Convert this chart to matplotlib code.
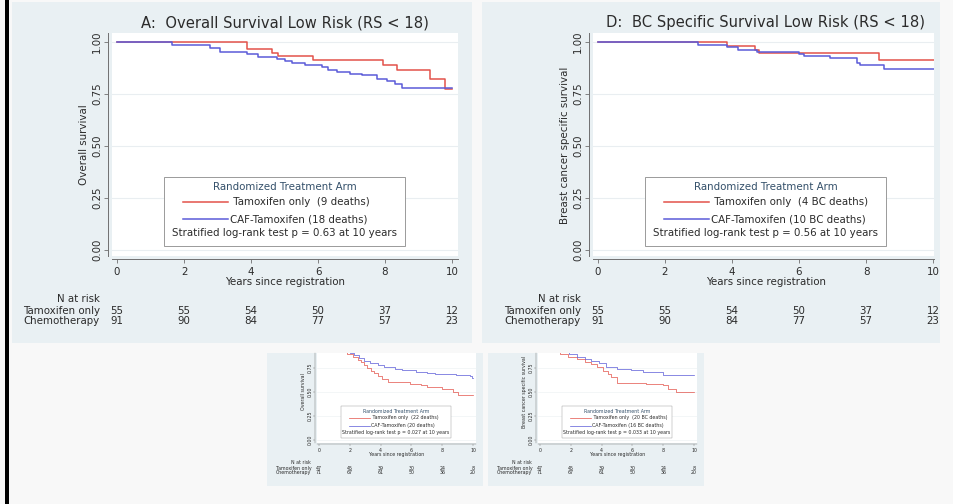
import matplotlib
matplotlib.use("Agg")
import matplotlib.pyplot as plt
from matplotlib.patches import Rectangle
from matplotlib.lines import Line2D
from matplotlib.transforms import blended_transform_factory

plt.rcParams['font.family'] = ['DejaVu Sans']

W, H = 954, 504
RED = '#e3524a'
BLUE = '#5b5bd8'
TXT = '#2b2b2b'
AXC = '#707070'

years = [0, 2, 4, 6, 8, 10]
yticks = [0, 0.25, 0.5, 0.75, 1.0]

# A: overall survival, low risk (step times / survival after step)
a_tam_t = [0, 3.87, 4.62, 4.82, 5.86, 7.95, 8.35, 9.34, 9.79, 10.0]
a_tam_s = [1.0, 0.968, 0.945, 0.932, 0.913, 0.889, 0.866, 0.820, 0.772, 0.772]
a_caf_t = [0, 1.63, 2.78, 3.07, 3.87, 4.22, 4.77, 5.01, 5.21, 5.61, 6.11, 6.31,
           6.56, 6.96, 7.30, 7.75, 8.05, 8.30, 8.50, 10.0]
a_caf_s = [1.0, 0.987, 0.971, 0.953, 0.940, 0.929, 0.920, 0.910, 0.897, 0.890, 0.880,
           0.866, 0.858, 0.847, 0.840, 0.820, 0.812, 0.800, 0.780, 0.780]

# D: breast cancer specific survival, low risk
d_tam_t = [0, 3.84, 4.69, 4.80, 8.40, 10.05]
d_tam_s = [1.0, 0.981, 0.963, 0.947, 0.915, 0.915]
d_caf_t = [0, 3.00, 3.84, 4.19, 4.74, 6.00, 6.14, 6.94, 7.73, 7.83, 8.53, 10.05]
d_caf_s = [1.0, 0.987, 0.976, 0.963, 0.950, 0.942, 0.933, 0.921, 0.900, 0.888, 0.868, 0.868]

# lower thumbnails (cropped at the top)
b_tam_t = [0, 0.7, 1.1, 1.4, 1.8, 2.2, 2.5, 2.7, 2.9, 3.1, 3.4, 3.6, 3.8, 4.1, 4.5,
           5.9, 6.6, 7.0, 8.0, 8.7, 9.0, 10.0]
b_tam_s = [1.0, 0.98, 0.96, 0.93, 0.90, 0.87, 0.84, 0.81, 0.78, 0.75, 0.72, 0.70, 0.67,
           0.64, 0.61, 0.59, 0.57, 0.55, 0.53, 0.50, 0.47, 0.47]
b_caf_t = [0, 0.9, 1.4, 2.0, 2.3, 2.6, 2.9, 3.3, 3.8, 4.2, 4.9, 5.4, 6.3, 7.0, 7.5,
           8.9, 9.8, 9.95, 10.0]
b_caf_s = [1.0, 0.98, 0.95, 0.91, 0.89, 0.86, 0.83, 0.80, 0.78, 0.76, 0.74, 0.73, 0.71,
           0.70, 0.69, 0.68, 0.667, 0.645, 0.645]
e_tam_t = [0, 0.5, 0.9, 1.3, 1.8, 2.4, 2.9, 3.3, 3.7, 4.1, 4.4, 4.6, 5.0, 6.9, 8.0,
           8.3, 8.8, 10.0]
e_tam_s = [1.0, 0.98, 0.94, 0.90, 0.87, 0.85, 0.82, 0.79, 0.76, 0.72, 0.69, 0.66, 0.60,
           0.585, 0.57, 0.535, 0.50, 0.50]
e_caf_t = [0, 0.9, 1.5, 1.9, 2.4, 2.9, 3.3, 3.8, 4.3, 5.0, 5.9, 6.7, 8.0, 10.0]
e_caf_s = [1.0, 0.97, 0.93, 0.90, 0.87, 0.85, 0.83, 0.80, 0.76, 0.745, 0.73, 0.71,
           0.68, 0.68]

low_tam_risk = [55, 55, 54, 50, 37, 12]
low_chemo_risk = [91, 90, 84, 77, 57, 23]
high_tam_risk = [47, 45, 39, 30, 24, 8]
high_chemo_risk = [71, 67, 61, 50, 36, 20]

fig = plt.figure(figsize=(W / 100, H / 100), dpi=100)
fig.patch.set_facecolor('#f8f8f8')


def rect(x1, y1, x2, y2, **kw):
    fig.add_artist(Rectangle((x1 / W, 1 - y2 / H), (x2 - x1) / W, (y2 - y1) / H,
                             transform=fig.transFigure, **kw))


def label(x, y, s, **kw):
    fig.text(x / W, 1 - y / H, s, **kw)


def panel(x0, y0, s, clip_top, right_ext, tam_t, tam_s, caf_t, caf_s, title, ylab,
          tam_lab, caf_lab, note, tam_risk, chemo_risk):
    # x0, y0: pixel position of (0 years, 0 survival); s: scale of the panel
    fs = 7.4 * s
    left, right = x0 - 5 * s, x0 + right_ext * s
    top, bottom = max(y0 - 217 * s, clip_top), y0 + 6 * s
    ax = fig.add_axes([left / W, 1 - bottom / H, (right - left) / W, (bottom - top) / H])
    ax.set_facecolor('white')
    ax.set_xlim((left - x0) / (33.5 * s), (right - x0) / (33.5 * s))
    ax.set_ylim((y0 - bottom) / (208 * s), (y0 - top) / (208 * s))
    ax.step(tam_t, tam_s, where='post', color=RED, lw=1.1 * s, zorder=3)
    ax.step(caf_t, caf_s, where='post', color=BLUE, lw=1.1 * s, zorder=3)
    for side in ['top', 'right']:
        ax.spines[side].set_visible(False)
    ax.spines['left'].set_position(('outward', 4 * s * 0.72))
    ax.spines['bottom'].set_position(('outward', 3 * s * 0.72))
    for side in ['left', 'bottom']:
        ax.spines[side].set_color(AXC)
        ax.spines[side].set_linewidth(0.7 * s)
    vis = [v for v in yticks if v <= ax.get_ylim()[1]]
    ax.set_xticks(years)
    ax.set_yticks(vis)
    ax.tick_params(length=3 * s, width=0.6 * s, color=AXC,
                   labelleft=False, labelbottom=False)
    ax.grid(axis='y', color='#e9eef1', lw=0.8 * s)
    ax.set_axisbelow(True)

    tx = blended_transform_factory(ax.transData, fig.transFigure)
    ty = blended_transform_factory(fig.transFigure, ax.transData)
    for v in vis:
        ax.text((x0 - 20 * s) / W, v, f'{v:.2f}', transform=ty, rotation=90,
                ha='center', va='center', fontsize=fs, color=TXT)
    for yr in years:
        ax.text(yr, 1 - (y0 + 22 * s) / H, str(yr), transform=tx,
                ha='center', va='center', fontsize=fs, color=TXT)
    label(x0 + 168 * s, y0 + 32 * s, 'Years since registration',
          ha='center', va='center', fontsize=fs, color=TXT)
    label(x0 - 33 * s, y0 - 105 * s, ylab, rotation=90,
          ha='center', va='center', fontsize=fs, color=TXT)
    if title:
        label(x0 + 168 * s, 23, title, ha='center', va='center',
              fontsize=10.6 * s, color=TXT)

    # risk table
    label(x0 - 17 * s, y0 + 49 * s, 'N at risk', ha='right', va='center', fontsize=fs, color=TXT)
    label(x0 - 17 * s, y0 + 61.5 * s, 'Tamoxifen only', ha='right', va='center', fontsize=fs, color=TXT)
    label(x0 - 17 * s, y0 + 71 * s, 'Chemotherapy', ha='right', va='center', fontsize=fs, color=TXT)
    for yr, n1, n2 in zip(years, tam_risk, chemo_risk):
        ax.text(yr, 1 - (y0 + 61.5 * s) / H, str(n1), transform=tx,
                ha='center', va='center', fontsize=fs, color=TXT)
        ax.text(yr, 1 - (y0 + 71 * s) / H, str(n2), transform=tx,
                ha='center', va='center', fontsize=fs, color=TXT)

    # legend box
    rect(x0 + 47 * s, y0 - 73 * s, x0 + 288 * s, y0 - 4 * s,
         facecolor='white', edgecolor='#9a9a9a', lw=0.7 * s, zorder=5)
    label(x0 + 167.5 * s, y0 - 63 * s, 'Randomized Treatment Arm', ha='center',
          va='center', fontsize=fs, color='#34506a', zorder=6)
    for yy, col, lab in [(-48, RED, ' ' + tam_lab), (-31, BLUE, caf_lab)]:
        fig.add_artist(Line2D([(x0 + 66 * s) / W, (x0 + 111 * s) / W],
                              [1 - (y0 + yy * s) / H] * 2, color=col,
                              lw=1.1 * s, transform=fig.transFigure, zorder=6))
        label(x0 + 113 * s, y0 + yy * s, lab, ha='left', va='center',
              fontsize=fs, color=TXT, zorder=6)
    label(x0 + 167.5 * s, y0 - 17 * s, note, ha='center', va='center',
          fontsize=fs, color=TXT, zorder=6)
    return ax


# background panels and left border
rect(5, 0, 9, H, facecolor='black', edgecolor='none', zorder=-5)
rect(12, 2, 472, 343, facecolor='#e9f0f3', edgecolor='none', zorder=-5)
rect(482, 2, 940, 343, facecolor='#e9f0f3', edgecolor='none', zorder=-5)
rect(267, 353, 483, 486, facecolor='#e9f0f3', edgecolor='none', zorder=-5)
rect(488, 353, 704, 486, facecolor='#e9f0f3', edgecolor='none', zorder=-5)

panel(117, 250, 1.0, 0, 341, a_tam_t, a_tam_s, a_caf_t, a_caf_s,
      'A:  Overall Survival Low Risk (RS < 18)', 'Overall survival',
      'Tamoxifen only  (9 deaths)', 'CAF-Tamoxifen (18 deaths)',
      'Stratified log-rank test p = 0.63 at 10 years', low_tam_risk, low_chemo_risk)
panel(598, 250, 1.0, 0, 336, d_tam_t, d_tam_s, d_caf_t, d_caf_s,
      'D:  BC Specific Survival Low Risk (RS < 18)', 'Breast cancer specific survival',
      'Tamoxifen only  (4 BC deaths)', 'CAF-Tamoxifen (10 BC deaths)',
      'Stratified log-rank test p = 0.56 at 10 years', low_tam_risk, low_chemo_risk)
panel(319, 440, 0.46, 353, 341, b_tam_t, b_tam_s, b_caf_t, b_caf_s,
      None, 'Overall survival',
      'Tamoxifen only  (22 deaths)', 'CAF-Tamoxifen (20 deaths)',
      'Stratified log-rank test p = 0.027 at 10 years', high_tam_risk, high_chemo_risk)
panel(540, 440, 0.46, 353, 341, e_tam_t, e_tam_s, e_caf_t, e_caf_s,
      None, 'Breast cancer specific survival',
      'Tamoxifen only  (20 BC deaths)', 'CAF-Tamoxifen (16 BC deaths)',
      'Stratified log-rank test p = 0.033 at 10 years', high_tam_risk, high_chemo_risk)

fig.savefig('out.png', dpi=100, facecolor=fig.get_facecolor())
